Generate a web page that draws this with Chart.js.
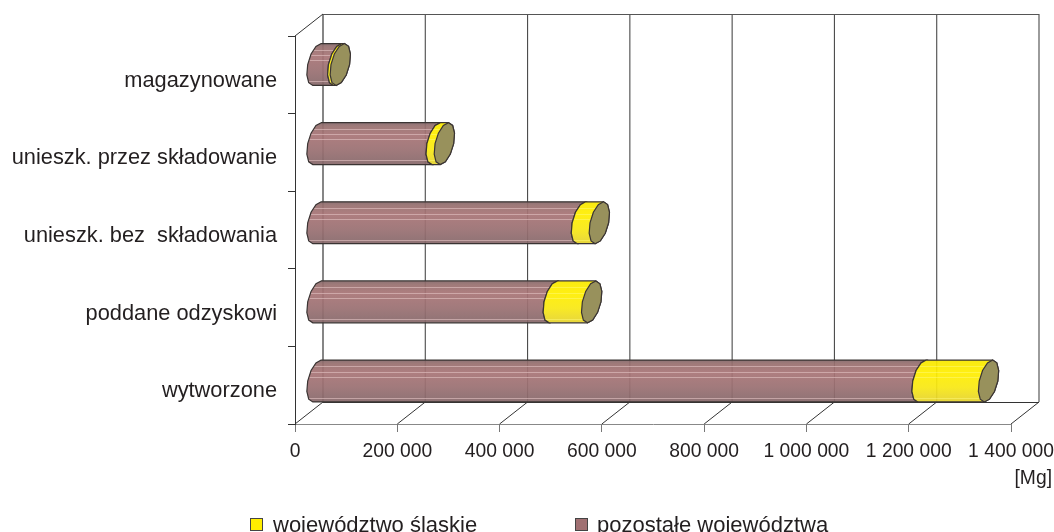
<!DOCTYPE html>
<html>
<head>
<meta charset="utf-8">
<style>
  html, body { margin: 0; padding: 0; background: #fff; overflow: hidden; }
  canvas { display: block; }
</style>
<script src="https://cdn.jsdelivr.net/npm/chart.js@4/dist/chart.umd.js"></script>
</head>
<body>
<canvas id="chart" width="1054" height="532"></canvas>
<script>
"use strict";

const categories = ["magazynowane", "unieszk. przez składowanie", "unieszk. bez  składowania", "poddane odzyskowi", "wytworzone"];
const pozostale = [41500, 234000, 518000, 463000, 1184000];
const slaskie = [5000, 16000, 35000, 75000, 130000];
const xTicks = [0, 200000, 400000, 600000, 800000, 1000000, 1200000, 1400000];
const labelPozostale = "pozostałe województwa";
const labelSlaskie = "województwo śląskie";
const unitLabel = "[Mg]";

const fmtTick = (v) => String(v).replace(/\B(?=(\d{3})+$)/g, " ");

const TEXT = "#231f20";
const FONT = "Liberation Sans";
const DEPTH_X = 28;
const DEPTH_Y = 22;

// tilted, faceted ellipse; from top to bottom along one side
function capPoints(cx, cy, ry, side) {
  const pts = [];
  const n = 6;
  for (let i = 0; i <= n; i++) {
    const t = -Math.PI / 2 + (Math.PI * i) / n;
    const y = ry * Math.sin(t);
    const x = side * 9.3 * Math.cos(t) - y * 0.2;
    pts.push([cx + x, cy + y]);
  }
  return pts;
}

// rightSide -1 stops the body on the next segment's bulge, so the two never overlap
function segmentPath(ctx, xa, xb, cy, ry, rightSide) {
  const left = capPoints(xa, cy, ry, -1);
  const right = capPoints(xb, cy, ry, rightSide).reverse();
  ctx.beginPath();
  left.concat(right).forEach((p, i) => (i ? ctx.lineTo(p[0], p[1]) : ctx.moveTo(p[0], p[1])));
  ctx.closePath();
}

function drawSegment(ctx, xa, xb, cy, ry, rightSide, stops, stripe) {
  const g = ctx.createLinearGradient(0, cy - ry, 0, cy + ry);
  stops.forEach((s) => g.addColorStop(s[0], s[1]));
  ctx.save();
  segmentPath(ctx, xa, xb, cy, ry, rightSide);
  ctx.globalAlpha = 0.93;
  ctx.fillStyle = g;
  ctx.fill();
  ctx.globalAlpha = 1;
  ctx.clip();
  ctx.strokeStyle = stripe;
  ctx.lineWidth = 1;
  [0.15, 0.28, 0.4, 0.9].forEach((f) => {
    const y = Math.round(cy - ry + 2 * ry * f) + 0.5;
    ctx.beginPath();
    ctx.moveTo(xa - 12, y);
    ctx.lineTo(xb + 12, y);
    ctx.stroke();
  });
  ctx.restore();
  segmentPath(ctx, xa, xb, cy, ry, rightSide);
  ctx.strokeStyle = "#3a3433";
  ctx.lineWidth = 1.2;
  ctx.stroke();
}

function drawCap(ctx, x, cy, ry) {
  const pts = capPoints(x, cy, ry, 1).concat(capPoints(x, cy, ry, -1).reverse());
  ctx.beginPath();
  pts.forEach((p, i) => (i ? ctx.lineTo(p[0], p[1]) : ctx.moveTo(p[0], p[1])));
  ctx.closePath();
  ctx.fillStyle = "#98915c";
  ctx.fill();
  ctx.strokeStyle = "#3a3433";
  ctx.lineWidth = 1.2;
  ctx.stroke();
}

const line = (ctx, x1, y1, x2, y2, color, w) => {
  ctx.strokeStyle = color;
  ctx.lineWidth = w;
  ctx.beginPath();
  ctx.moveTo(x1, y1);
  ctx.lineTo(x2, y2);
  ctx.stroke();
};

const brownStops = [[0, "#84686a"], [0.08, "#97706f"], [0.3, "#a87476"], [0.65, "#9a7072"], [1, "#86686a"]];
const yellowStops = [[0, "#f8e800"], [0.3, "#ffee00"], [0.65, "#f8e814"], [1, "#e4d230"]];

const cylinders = {
  id: "cylinders",
  // back wall and floor go under the bars, then the cylinders replace the flat bars
  beforeDatasetsDraw(chart) {
    const { ctx, chartArea: a, scales: { x } } = chart;
    const top = a.top - DEPTH_Y;
    const bottom = a.bottom - DEPTH_Y;
    ctx.save();
    for (const v of xTicks) {
      const px = x.getPixelForValue(v);
      line(ctx, px + DEPTH_X, top, px + DEPTH_X, bottom, v === 0 ? "#222" : "#4a4a4a", 1.1);
      line(ctx, px, a.bottom, px + DEPTH_X, bottom, "#333", 1);
    }
    line(ctx, a.left, a.top, a.left + DEPTH_X, top, "#333", 1);
    line(ctx, a.left + DEPTH_X, top + 0.5, a.right + DEPTH_X, top + 0.5, "#555", 1.1);
    line(ctx, a.left + DEPTH_X, bottom + 0.5, a.right + DEPTH_X, bottom + 0.5, "#333", 1);

    const poz = chart.getDatasetMeta(0).data;
    const sla = chart.getDatasetMeta(1).data;
    categories.forEach((c, i) => {
      const cy = poz[i].y * 1.0197 - 11.77;
      const ry = poz[i].height / 2;
      const x0 = poz[i].base + 21.5;
      const x1 = poz[i].x + 21.5;
      const x2 = sla[i].x + 21.5;
      drawSegment(ctx, x0, x1, cy, ry, -1, brownStops, "rgba(222,190,190,0.65)");
      drawSegment(ctx, x1, x2, cy, ry, 1, yellowStops, "rgba(255,250,120,0.5)");
      drawCap(ctx, x2, cy, ry);
    });
    ctx.restore();
    return false;
  },
  afterDraw(chart) {
    const { ctx } = chart;
    ctx.save();
    ctx.fillStyle = TEXT;
    ctx.textBaseline = "alphabetic";
    ctx.font = `19.3px "${FONT}"`;
    ctx.textAlign = "right";
    ctx.fillText(unitLabel, 1052, 484);
    // legend sits at the very edge of the page, cut like the original
    ctx.textAlign = "left";
    ctx.font = `22px "${FONT}"`;
    const ds = chart.data.datasets;
    [[ds[1], 250, 273], [ds[0], 575, 597]].forEach(([d, bx, tx]) => {
      ctx.fillStyle = d.backgroundColor;
      ctx.strokeStyle = "#444";
      ctx.lineWidth = 1;
      ctx.fillRect(bx + 0.5, 518.5, 12, 12);
      ctx.strokeRect(bx + 0.5, 518.5, 12, 12);
      ctx.fillStyle = TEXT;
      ctx.fillText(d.label, tx, 532);
    });
    ctx.restore();
  },
};

new Chart(document.getElementById("chart"), {
  type: "bar",
  plugins: [cylinders],
  data: {
    labels: categories,
    datasets: [
      { label: labelPozostale, data: pozostale, backgroundColor: "#a07072" },
      { label: labelSlaskie, data: slaskie, backgroundColor: "#ffee00" },
    ],
  },
  options: {
    indexAxis: "y",
    responsive: false,
    animation: false,
    barPercentage: 0.54,
    categoryPercentage: 1,
    layout: { padding: { top: 36, right: 43, left: 0, bottom: 0 } },
    plugins: { legend: { display: false }, tooltip: { enabled: false } },
    scales: {
      x: {
        stacked: true,
        min: 0,
        max: 1400000,
        afterBuildTicks: (s) => { s.ticks = xTicks.map((value) => ({ value })); },
        afterFit: (s) => { s.height = 108; s.paddingLeft = 0; s.paddingRight = 0; },
        grid: { drawOnChartArea: false, color: "#777", tickLength: 8 },
        border: { color: "#888" },
        ticks: {
          autoSkip: false,
          maxRotation: 0,
          padding: 8,
          color: TEXT,
          font: { family: FONT, size: 19.3 },
          callback: (v) => fmtTick(v),
        },
      },
      y: {
        stacked: true,
        afterFit: (s) => { s.width = 295; s.paddingTop = 0; s.paddingBottom = 0; },
        grid: { drawOnChartArea: false, color: "#333", tickLength: 7 },
        border: { color: "#333" },
        ticks: {
          autoSkip: false,
          padding: 11,
          labelOffset: 6,
          color: TEXT,
          font: { family: FONT, size: 21.8 },
        },
      },
    },
  },
});
</script>
</body>
</html>
